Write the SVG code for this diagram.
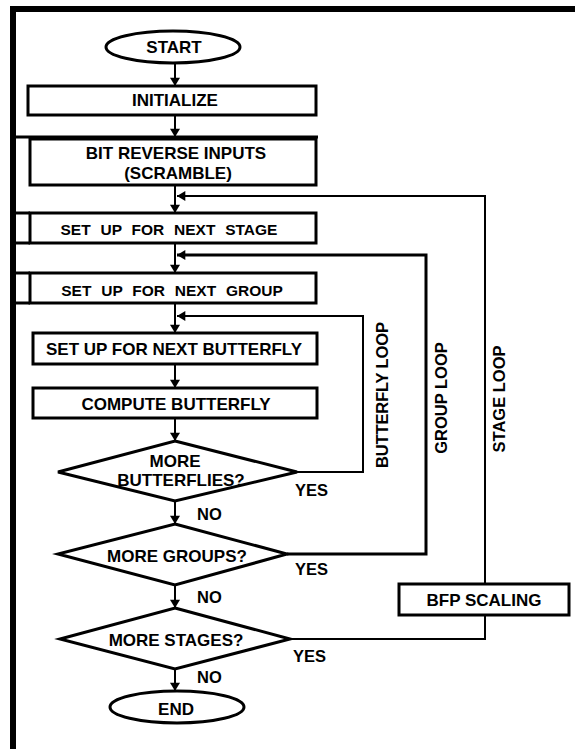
<svg xmlns="http://www.w3.org/2000/svg" width="575" height="749" viewBox="0 0 575 749">
<style>
.box{fill:#fff;stroke:#000;stroke-width:3}
.term{fill:#fff;stroke:#000;stroke-width:3}
.t{font-family:"Liberation Sans",Arial,sans-serif;font-weight:bold;font-size:17px;fill:#000;text-anchor:middle}
.ts{font-family:"Liberation Sans",Arial,sans-serif;font-weight:bold;font-size:15.5px;fill:#000;text-anchor:middle;word-spacing:5.5px}
.lbl{font-family:"Liberation Sans",Arial,sans-serif;font-weight:bold;font-size:16.5px;fill:#000}
.ln{fill:none;stroke:#000;stroke-width:2}
.art{fill:none;stroke:#000;stroke-width:3}
</style>
<defs>
<marker id="ah" viewBox="0 0 10 12" refX="10" refY="6" markerWidth="11" markerHeight="10" markerUnits="userSpaceOnUse" orient="auto">
<path d="M0,0 L10,6 L0,12 Z" fill="#000"/>
</marker>
</defs>
<rect width="575" height="749" fill="#fff"/>
<g id="frame">
<rect x="10" y="6" width="565" height="6" fill="#000"/>
<rect x="10" y="6" width="6" height="743" fill="#000"/>
<path class="art" d="M16,137 H318 M16,213 H30 M16,243 H30 M16,273 H30 M16,303 H30"/>
</g>
<g id="connectors">
<path class="ln" d="M175,63 V86" marker-end="url(#ah)"/>
<path class="ln" d="M175,115 V137" marker-end="url(#ah)"/>
<path class="ln" d="M175,185 V213" marker-end="url(#ah)"/>
<path class="ln" d="M175,243 V273" marker-end="url(#ah)"/>
<path class="ln" d="M175,303 V333" marker-end="url(#ah)"/>
<path class="ln" d="M175,364 V388" marker-end="url(#ah)"/>
<path class="ln" d="M175,418 V441" marker-end="url(#ah)"/>
<path class="ln" d="M175,501 V524" marker-end="url(#ah)"/>
<path class="ln" d="M175,585 V608" marker-end="url(#ah)"/>
<path class="ln" d="M175,669 V691" marker-end="url(#ah)"/>
<path class="ln" d="M297,472 H363 V316 H177" marker-end="url(#ah)"/>
<path class="ln" style="stroke-width:3" d="M287,554 H426 V255 H177" marker-end="url(#ah)"/>
<path class="ln" d="M290,639 H485 V615"/>
<path class="ln" d="M485,584 V196 H177" marker-end="url(#ah)"/>
</g>
<g id="start">
<ellipse class="term" cx="173" cy="47" rx="67" ry="16"/>
<text class="t" x="174" y="53">START</text>
</g>
<g id="initialize">
<rect class="box" x="28" y="86" width="288" height="29"/>
<text class="t" x="175" y="106">INITIALIZE</text>
</g>
<g id="bitreverse">
<rect class="box" x="30" y="139" width="286" height="46"/>
<text class="t" x="176" y="159">BIT REVERSE INPUTS</text>
<text class="t" x="178" y="179">(SCRAMBLE)</text>
</g>
<g id="nextstage">
<rect class="box" x="30" y="213" width="286" height="30"/>
<text class="ts" x="169" y="235">SET UP FOR NEXT STAGE</text>
</g>
<g id="nextgroup">
<rect class="box" x="30" y="273" width="286" height="30"/>
<text class="ts" x="172" y="296">SET UP FOR NEXT GROUP</text>
</g>
<g id="nextbutterfly">
<rect class="box" x="33" y="333" width="284" height="31"/>
<text class="t" x="174" y="355">SET UP FOR NEXT BUTTERFLY</text>
</g>
<g id="compute">
<rect class="box" x="33" y="388" width="284" height="30"/>
<text class="t" x="176" y="410">COMPUTE BUTTERFLY</text>
</g>
<g id="morebutterflies">
<polygon class="box" points="175,441 297,472 175,501 58,472"/>
<text class="t" x="175" y="467">MORE</text>
<text class="t" x="181" y="486">BUTTERFLIES?</text>
<text class="lbl" x="295" y="496">YES</text>
<text class="lbl" x="197" y="520">NO</text>
</g>
<g id="moregroups">
<polygon class="box" points="175,524 287,554 175,585 58,554"/>
<text class="t" x="177" y="562">MORE GROUPS?</text>
<text class="lbl" x="295" y="575">YES</text>
<text class="lbl" x="197" y="603">NO</text>
</g>
<g id="morestages">
<polygon class="box" points="175,608 290,639 175,669 60,639"/>
<text class="t" x="176" y="646">MORE STAGES?</text>
<text class="lbl" x="293" y="662">YES</text>
<text class="lbl" x="197" y="683">NO</text>
</g>
<g id="end">
<ellipse class="term" cx="177" cy="707" rx="67" ry="16"/>
<text class="t" x="176" y="715">END</text>
</g>
<g id="bfpscaling">
<rect class="box" x="399" y="584" width="170" height="31"/>
<text class="t" x="484" y="606">BFP SCALING</text>
</g>
<g id="looplabels">
<text class="lbl" text-anchor="middle" x="388" y="395" transform="rotate(-90 388 395)" textLength="146">BUTTERFLY LOOP</text>
<text class="lbl" text-anchor="middle" x="447" y="398" transform="rotate(-90 447 398)">GROUP LOOP</text>
<text class="lbl" text-anchor="middle" x="505" y="399" transform="rotate(-90 505 399)">STAGE LOOP</text>
</g>
</svg>
